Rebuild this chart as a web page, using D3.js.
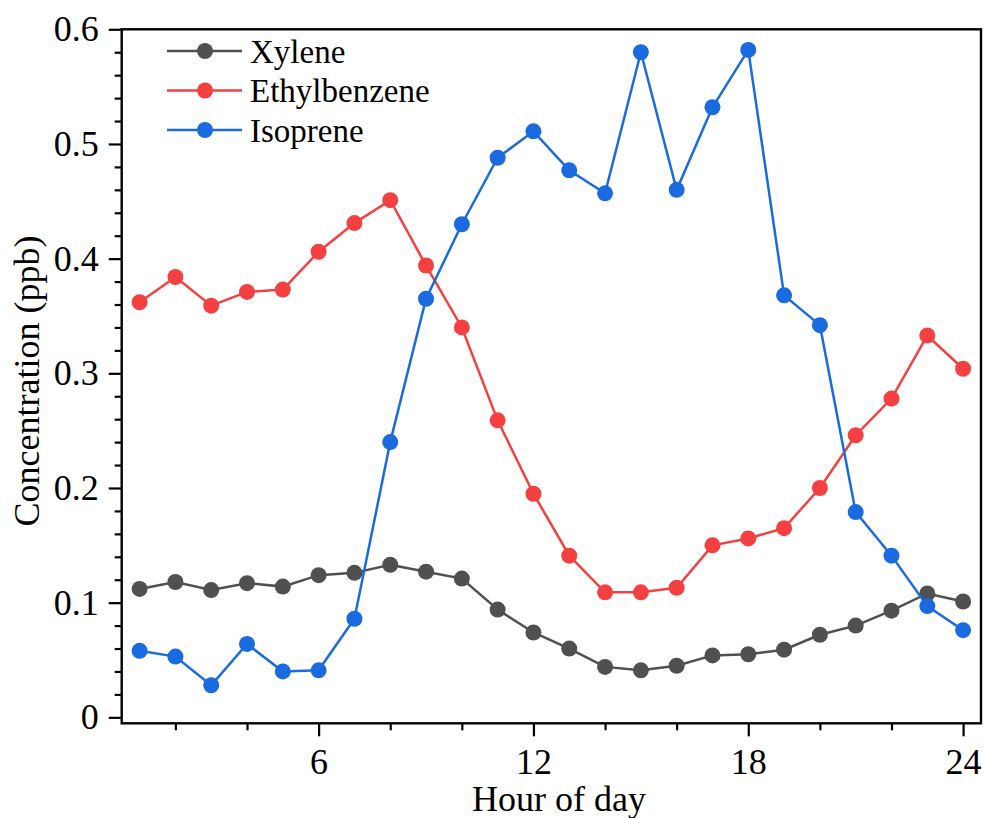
<!DOCTYPE html>
<html>
<head>
<meta charset="utf-8">
<script src="https://cdn.jsdelivr.net/npm/d3@7"></script>
<style>
  html, body { margin: 0; padding: 0; background: #ffffff; }
  svg { display: block; }
  text { font-family: "Liberation Serif", "Times New Roman", serif; fill: #000; }
</style>
</head>
<body>
<svg id="chart" width="984" height="818"></svg>
<script>
const hours = [1,2,3,4,5,6,7,8,9,10,11,12,13,14,15,16,17,18,19,20,21,22,23,24];
const xylene = [0.112,0.118,0.111,0.117,0.114,0.124,0.126,0.133,0.127,0.121,0.094,0.074,0.060,0.044,0.041,0.045,0.054,0.055,0.059,0.072,0.080,0.093,0.108,0.101];
const ethylbenzene = [0.362,0.384,0.359,0.371,0.373,0.406,0.431,0.451,0.394,0.340,0.259,0.195,0.141,0.109,0.109,0.113,0.150,0.156,0.165,0.200,0.246,0.278,0.333,0.304];
const isoprene = [0.058,0.053,0.028,0.064,0.040,0.041,0.086,0.240,0.365,0.430,0.488,0.511,0.477,0.457,0.580,0.460,0.532,0.582,0.368,0.342,0.179,0.141,0.097,0.076];
const seriesNames = ["Xylene","Ethylbenzene","Isoprene"];
const seriesColors = ["#505050","#f44040","#1a6ae0"];
const xMajorTicks = [6,12,18,24];
const xMinorTicks = [2,4,8,10,14,16,20,22];
const yMajorTicks = [0,0.1,0.2,0.3,0.4,0.5,0.6];
const yMinorTicks = d3.range(0, 0.6001, 0.02).filter(v => Math.abs(Math.round(v*10) - v*10) > 1e-6);
const xTitle = "Hour of day";
const yTitle = "Concentration (ppb)";

const FONT = '"Liberation Serif", "Times New Roman", serif';
const svg = d3.select("#chart");
const L = 121.7, R = 981, T = 29.3, B = 723.3;
const x = d3.scaleLinear().domain([0.5, 24.5]).range([L, R]);
const y = d3.scaleLinear().domain([-0.0052, 0.6]).range([B, T]);

// minor ticks
const gxMinor = svg.append("g").attr("transform", `translate(0,${B})`)
  .call(d3.axisBottom(x).tickValues(xMinorTicks).tickSize(7).tickFormat(""));
const gyMinor = svg.append("g").attr("transform", `translate(${L},0)`)
  .call(d3.axisLeft(y).tickValues(yMinorTicks).tickSize(7).tickFormat(""));

// major axes
const gx = svg.append("g").attr("transform", `translate(0,${B})`)
  .call(d3.axisBottom(x).tickValues(xMajorTicks).tickSize(13).tickPadding(12).tickFormat(d3.format("d")));
const gy = svg.append("g").attr("transform", `translate(${L},0)`)
  .call(d3.axisLeft(y).tickValues(yMajorTicks).tickSize(13).tickPadding(10)
    .tickFormat(d => d === 0 ? "0" : d3.format(".1f")(d)));

[gx, gy, gxMinor, gyMinor].forEach(g => {
  g.attr("font-family", FONT);
  g.selectAll("text").style("font-size", "36px").style("font-family", FONT).attr("fill", "#000");
  g.selectAll(".tick line").attr("stroke", "#000").attr("stroke-width", 2.2);
  g.select(".domain").remove();
});

// frame
svg.append("rect").attr("x", L).attr("y", T).attr("width", R - L).attr("height", B - T)
  .attr("fill", "none").attr("stroke", "#000").attr("stroke-width", 2.4);

// series
const allSeries = [xylene, ethylbenzene, isoprene];
const line = d3.line().x((d, i) => x(hours[i])).y(d => y(d));
allSeries.forEach((vals, si) => {
  const g = svg.append("g");
  g.append("path").datum(vals).attr("d", line).attr("fill", "none")
    .attr("stroke", seriesColors[si]).attr("stroke-width", 2.5);
  g.selectAll("circle").data(vals).join("circle")
    .attr("cx", (d, i) => x(hours[i])).attr("cy", d => y(d)).attr("r", 8)
    .attr("fill", seriesColors[si]);
});

// legend
const legend = svg.append("g");
const legendRows = [51, 90.5, 130];
seriesNames.forEach((name, i) => {
  const yy = legendRows[i];
  legend.append("line").attr("x1", 167).attr("x2", 242).attr("y1", yy).attr("y2", yy)
    .attr("stroke", seriesColors[i]).attr("stroke-width", 2.5);
  legend.append("circle").attr("cx", 205).attr("cy", yy).attr("r", 8).attr("fill", seriesColors[i]);
  legend.append("text").attr("x", 250).attr("y", yy).attr("dy", "0.35em")
    .style("font-size", "33px").style("font-family", FONT).text(name);
});

// axis titles
svg.append("text").attr("x", 559).attr("y", 811).attr("text-anchor", "middle")
  .style("font-size", "36px").style("font-family", FONT).text(xTitle);
svg.append("text").attr("transform", `translate(39,381) rotate(-90)`).attr("text-anchor", "middle")
  .style("font-size", "36px").style("font-family", FONT).text(yTitle);
</script>
</body>
</html>
